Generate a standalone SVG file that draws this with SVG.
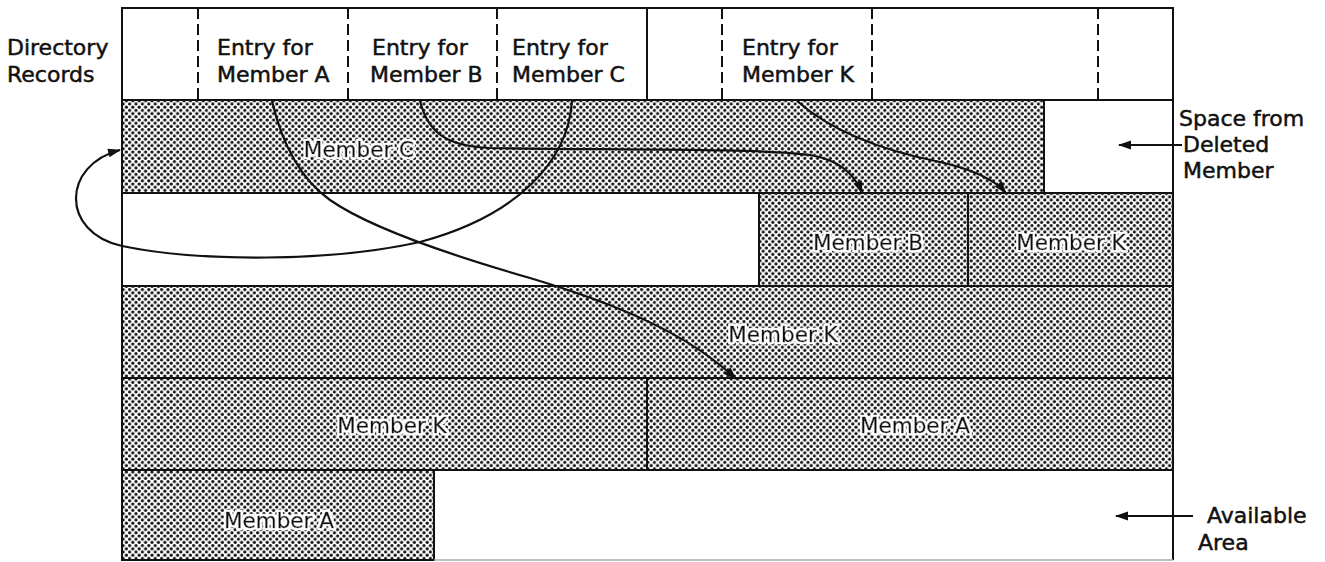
<svg xmlns="http://www.w3.org/2000/svg" width="1325" height="562" viewBox="0 0 1325 562">
<style>
.t{font-family:"DejaVu Sans","Liberation Sans",sans-serif;font-size:22px;fill:#111;stroke:#111;stroke-width:0.5px}
.m{font-family:"DejaVu Sans","Liberation Sans",sans-serif;font-size:21.5px;fill:#111;stroke:#111;stroke-width:0.5px;filter:url(#halo)}
.box{stroke:#111;stroke-width:2}
.sh{fill:url(#dots)}
.wh{fill:#fff}
.dash{stroke:#111;stroke-width:2;stroke-dasharray:11 5}
.solid{stroke:#111;stroke-width:2}
.c{fill:none;stroke:#111;stroke-width:2.2;marker-end:url(#ah)}
</style>
<defs>
<pattern id="dots" width="6.4" height="6.4" patternUnits="userSpaceOnUse">
<rect width="6.4" height="6.4" fill="#fff"/>
<circle cx="1.6" cy="1.6" r="1.6" fill="#111"/>
<circle cx="4.8" cy="4.8" r="1.6" fill="#111"/>
</pattern>
<filter id="halo" x="-10%" y="-30%" width="120%" height="160%">
<feMorphology in="SourceAlpha" operator="dilate" radius="1.8" result="d"/>
<feFlood flood-color="#fff"/>
<feComposite in2="d" operator="in" result="w"/>
<feMerge><feMergeNode in="w"/><feMergeNode in="SourceGraphic"/></feMerge>
</filter>
<marker id="ah" markerWidth="14" markerHeight="10" refX="12" refY="4.5" orient="auto" markerUnits="userSpaceOnUse">
<path d="M0,0 L13,4.5 L0,9 z" fill="#111"/>
</marker>
</defs>
<rect width="1325" height="562" fill="#fff"/>

<g id="directory">
<rect x="122" y="8" width="1051" height="92" class="box wh"/>
<line x1="198" y1="8" x2="198" y2="100" class="dash"/>
<line x1="348" y1="8" x2="348" y2="100" class="dash"/>
<line x1="497" y1="8" x2="497" y2="100" class="dash"/>
<line x1="647" y1="8" x2="647" y2="100" class="solid"/>
<line x1="722" y1="8" x2="722" y2="100" class="dash"/>
<line x1="872" y1="8" x2="872" y2="100" class="dash"/>
<line x1="1098" y1="8" x2="1098" y2="100" class="dash"/>
<text class="t" x="7" y="55">Directory</text>
<text class="t" x="7" y="82">Records</text>
</g>
<g id="entryA"><text class="t" x="217" y="55">Entry for</text><text class="t" x="217" y="82">Member A</text></g>
<g id="entryB"><text class="t" x="372" y="55">Entry for</text><text class="t" x="370" y="82">Member B</text></g>
<g id="entryC"><text class="t" x="512" y="55">Entry for</text><text class="t" x="512" y="82">Member C</text></g>
<g id="entryK"><text class="t" x="742" y="55">Entry for</text><text class="t" x="742" y="82">Member K</text></g>

<g id="memberC1"><rect x="122" y="100" width="922" height="93" class="box sh"/><text class="m" x="359" y="157" text-anchor="middle">Member C</text></g>
<g id="deleted"><rect x="1044" y="100" width="129" height="93" class="box wh"/></g>
<g id="free2"><rect x="122" y="193" width="637" height="93" class="box wh"/></g>
<g id="memberB"><rect x="759" y="193" width="209" height="93" class="box sh"/><text class="m" x="868" y="250" text-anchor="middle">Member B</text></g>
<g id="memberK2"><rect x="968" y="193" width="205" height="93" class="box sh"/><text class="m" x="1071" y="250" text-anchor="middle">Member K</text></g>
<g id="memberK3"><rect x="122" y="286" width="1051" height="92" class="box sh"/><text class="m" x="783" y="342" text-anchor="middle">Member K</text></g>
<g id="memberK4"><rect x="122" y="378" width="525" height="92" class="box sh"/><text class="m" x="392" y="433" text-anchor="middle">Member K</text></g>
<g id="memberA4"><rect x="647" y="378" width="526" height="92" class="box sh"/><text class="m" x="915" y="433" text-anchor="middle">Member A</text></g>
<g id="memberA5"><rect x="122" y="470" width="312" height="90" class="box sh"/><text class="m" x="279" y="528" text-anchor="middle">Member A</text></g>
<g id="available"><path d="M434,470 L1173,470 L1173,560" fill="none" class="solid"/><line x1="434" y1="560" x2="1173" y2="560" stroke="#aaa" stroke-width="1.5"/></g>

<g id="labels">
<text class="t" x="1179" y="126">Space from</text>
<text class="t" x="1183" y="152">Deleted</text>
<text class="t" x="1183" y="178">Member</text>
<text class="t" x="1207" y="523">Available</text>
<text class="t" x="1198" y="550">Area</text>
</g>

<g id="connectors">
<path class="c" d="M272,101 C280,135 295,175 330,200 C370,228 450,255 530,278 C620,305 690,335 736,379"/>
<path class="c" d="M572,101 C568,160 520,215 420,242 C330,262 200,262 122,246 C60,232 62,165 120,150"/>
<path class="c" d="M420,101 C428,132 445,146 490,148 C600,150 760,148 810,155 C840,160 855,175 862,193"/>
<path class="c" d="M797,101 C830,130 880,150 940,162 C975,170 995,180 1006,193"/>
<line class="c" x1="1182" y1="145" x2="1119" y2="145"/>
<line class="c" x1="1193" y1="516" x2="1116" y2="516"/>
</g>
</svg>
